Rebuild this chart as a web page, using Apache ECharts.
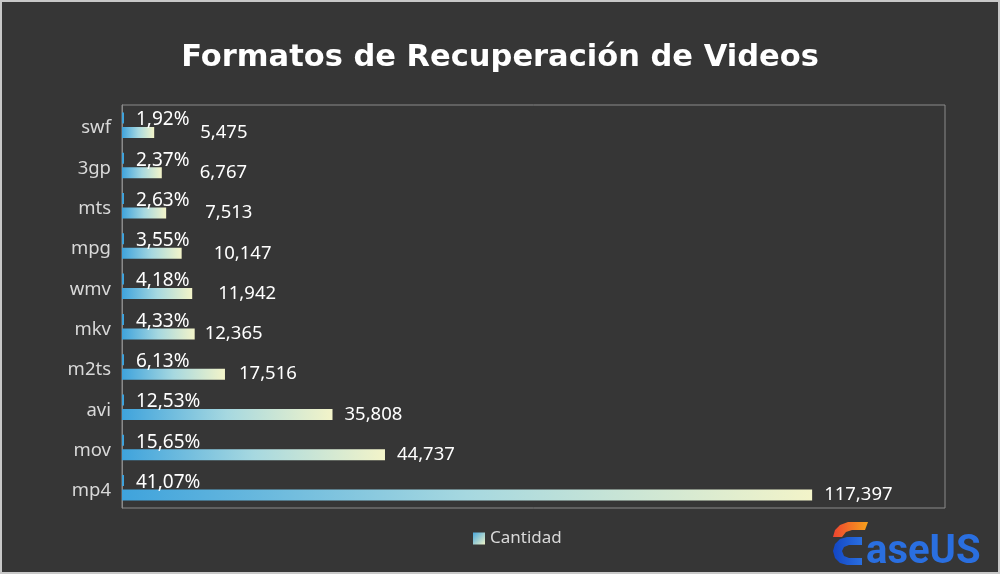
<!DOCTYPE html>
<html>
<head>
<meta charset="utf-8">
<script src="https://cdn.jsdelivr.net/npm/echarts@6/dist/echarts.min.js"></script>
<style>
html,body{margin:0;padding:0;background:#363636;}
#c{width:1000px;height:574px;}
</style>
</head>
<body>
<div id="c"></div>
<script>
var categories = ['mp4','mov','avi','m2ts','mkv','wmv','mpg','mts','3gp','swf'];
var cantidad = [117397,44737,35808,17516,12365,11942,10147,7513,6767,5475];
var porcentaje = [41.07,15.65,12.53,6.13,4.33,4.18,3.55,2.63,2.37,1.92];
// extra horizontal shift of the value labels (styling, as placed in the reference)
var valueLabelShift = [0,0,0,2,-2,14,20,27,26,34];

var chart = echarts.init(document.getElementById('c'));
var barGrad = new echarts.graphic.LinearGradient(0,0,1,0,[
  {offset:0,color:'#3fa3dc'},
  {offset:0.5,color:'#a6d8e0'},
  {offset:1,color:'#f3f4c9'}
]);
var legendGrad = new echarts.graphic.LinearGradient(0,0,1,1,[
  {offset:0,color:'#4aa8dc'},
  {offset:1,color:'#eef3c8'}
]);
var font = 'Noto Sans';
chart.setOption({
  backgroundColor:'#363636',
  animation:false,
  title:{
    text:'Formatos de Recuperación de Videos',
    left:'center', top:38,
    textStyle:{color:'#ffffff',fontSize:30.5,fontWeight:'bold',fontFamily:'DejaVu Sans'}
  },
  legend:{
    top:525, left:468,
    itemWidth:12,itemHeight:12,itemGap:7,
    data:[{name:'Cantidad',icon:'rect',itemStyle:{color:legendGrad}}],
    textStyle:{color:'#d9d9d9',fontSize:17,fontFamily:font}
  },
  grid:{left:122,right:55,top:105,bottom:66,show:true,borderColor:'#8a8a8a',borderWidth:1},
  xAxis:{type:'value',min:0,max:140000,show:false,splitLine:{show:false}},
  yAxis:{
    type:'category',data:categories,
    axisLine:{show:true,lineStyle:{color:'#8a8a8a'}},
    axisTick:{show:false},
    axisLabel:{margin:11,
      formatter:function(v){return '{a|'+v+'}';},
      rich:{a:{color:'#d9d9d9',fontSize:18.5,fontFamily:font,padding:[6,0,0,0]}}}
  },
  series:[
    {
      name:'Porcentaje',type:'bar',data:porcentaje.map(function(v){return v/100;}),barWidth:11,barMinHeight:2,barGap:'32%',
      itemStyle:{color:'#3fa3dc'},
      label:{show:true,position:'right',distance:12,offset:[0,2],color:'#ffffff',fontSize:19,fontFamily:font,
        formatter:function(p){return (p.value*100).toFixed(2).replace('.',',')+'%';}}
    },
    {
      name:'Cantidad',type:'bar',barWidth:11,barGap:'32%',
      data:cantidad.map(function(v,i){return {value:v,label:{offset:[valueLabelShift[i],0]}};}),
      itemStyle:{color:barGrad},
      label:{show:true,position:'right',distance:12,color:'#ffffff',fontSize:18.5,fontFamily:font,
        formatter:function(p){return p.value.toLocaleString('en-US');}}
    }
  ],
  graphic:[
    {type:'rect',shape:{x:1,y:1,width:998,height:572},style:{fill:'none',stroke:'#c8c8c8',lineWidth:2},silent:true},
    {type:'polygon',shape:{points:[[833,537],[835,530],[840,525],[848,522],[868,522],[865,530],[852,530],[846,532],[842,537]]},
      style:{fill:new echarts.graphic.LinearGradient(0,0,1,0,[{offset:0,color:'#ee4430'},{offset:1,color:'#f7a21b'}])}},
    {type:'polygon',shape:{points:[[862,537],[847,537],[840,539],[835,544],[833,551],[835,558],[840,563],[847,565],[862,565],[862,558],[849,558],[844,556],[842,551],[844,547],[849,545],[862,545]]},
      style:{fill:new echarts.graphic.LinearGradient(0,0,1,0,[{offset:0,color:'#1346c4'},{offset:1,color:'#2a6fe0'}])}},
    {type:'text',left:866,top:533,style:{text:'aseUS',fill:'#2a6fe0',font:'bold 40px Roboto'}}
  ]
});
</script>
</body>
</html>
